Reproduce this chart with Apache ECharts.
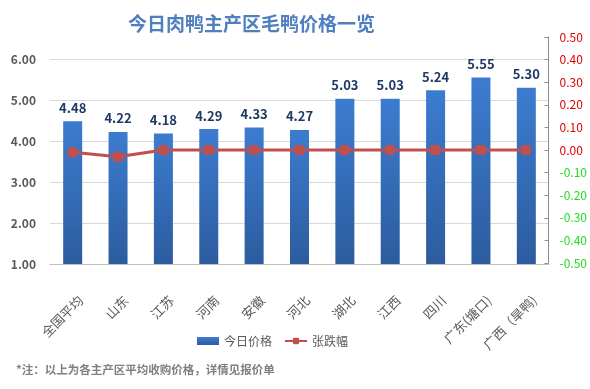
<!DOCTYPE html>
<html><head><meta charset="utf-8">
<script src="https://cdn.jsdelivr.net/npm/echarts@6/dist/echarts.min.js"></script>
<style>html,body{margin:0;padding:0;background:#fff}#c{width:590px;height:389px}</style>
</head><body><div id="c"></div>
<script>
var categories = ['全国平均','山东','江苏','河南','安徽','河北','湖北','江西','四川','广东(塘口)','广西（旱鸭)'];
var prices = [4.48,4.22,4.18,4.29,4.33,4.27,5.03,5.03,5.24,5.55,5.30];
var changes = [-0.01,-0.03,0.00,0.00,0.00,0.00,0.00,0.00,0.00,0.00,0.00];
var titleText = '今日肉鸭主产区毛鸭价格一览';
var noteText = '*注：以上为各主产区平均收购价格，详情见报价单';
var FONT = '"Noto Sans CJK SC", "Noto Sans", sans-serif';
var chart = echarts.init(document.getElementById('c'));
chart.setOption({
  animation:false,
  textStyle:{fontFamily:FONT},
  title:[{text:titleText,left:123,top:9,textStyle:{color:'#4F7FBE',fontSize:19,fontWeight:'bold',fontFamily:FONT}},
         {text:noteText,left:11,top:359,textStyle:{color:'#808080',fontSize:11.5,fontWeight:'bold',fontFamily:FONT}}],
  legend:{left:192,top:330,itemGap:12,itemWidth:22,itemHeight:8,textStyle:{color:'#595959',fontSize:12,fontFamily:FONT},
    data:[{name:'今日价格',icon:'rect'},{name:'张跌幅'}]},
  grid:[{left:50,right:41,top:59,bottom:125},{left:50,right:41,top:37,bottom:126},{left:58,right:33,top:59,bottom:125}],
  xAxis:[{type:'category',gridIndex:0,data:categories,
     axisLine:{lineStyle:{color:'#BFBFBF'}},axisTick:{show:false},axisLabel:{show:false}},
    {type:'category',gridIndex:1,data:categories,show:false},
    {type:'category',gridIndex:2,data:categories,
     axisLine:{show:false},axisTick:{show:false},
     axisLabel:{rotate:45,color:'#595959',fontSize:13,margin:34,interval:0,fontFamily:FONT}}],
  yAxis:[{type:'value',gridIndex:0,min:1,max:6,interval:1,
     axisLine:{show:false},axisTick:{show:false},
     splitLine:{lineStyle:{color:'#D9D9D9'}},
     axisLabel:{color:'#595959',fontSize:12,fontWeight:'bold',margin:14,formatter:function(v){return v.toFixed(2);}}},
    {type:'value',gridIndex:1,position:'right',min:-0.5,max:0.5,interval:0.1,
     axisLine:{show:true,lineStyle:{color:'#8C8C8C'}},axisTick:{show:true,inside:true,length:4,lineStyle:{color:'#8C8C8C'}},
     splitLine:{show:false},
     axisLabel:{margin:11,fontSize:12,formatter:function(v){var s=(Math.round(v*100)/100).toFixed(2);if(s==='-0.00')s='0.00';return (v< -0.001?'{g|':'{r|')+s+'}';},
       rich:{r:{color:'#E00000',fontSize:12},g:{color:'#22DD22',fontSize:12}}}},
    {type:'value',gridIndex:2,show:false,min:0,max:1}],
  series:[{name:'今日价格',type:'bar',xAxisIndex:0,yAxisIndex:0,data:prices,barWidth:19,
     itemStyle:{color:new echarts.graphic.LinearGradient(0,0,0,1,[{offset:0,color:'#3C7CD0'},{offset:1,color:'#2C5C9E'}])},
     label:{show:true,position:'top',distance:7,color:'#203864',fontSize:13,fontWeight:'bold',formatter:function(p){return p.value.toFixed(2);}}},
    {name:'张跌幅',type:'line',xAxisIndex:1,yAxisIndex:1,data:changes,symbol:'roundRect',symbolSize:10,
     lineStyle:{color:'#C0504D',width:3},itemStyle:{color:'#C0504D'}}]
});
</script></body></html>
